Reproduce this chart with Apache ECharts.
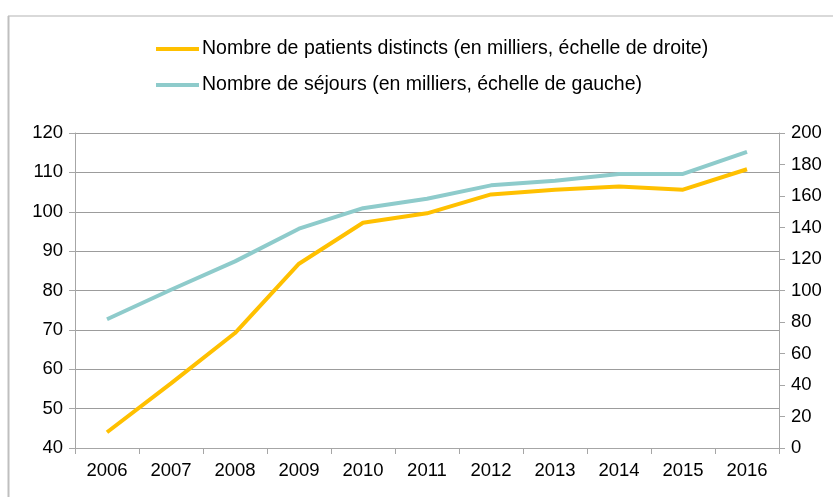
<!DOCTYPE html>
<html>
<head>
<meta charset="utf-8">
<script src="https://cdn.jsdelivr.net/npm/echarts@6/dist/echarts.min.js"></script>
<style>
  html, body { margin: 0; padding: 0; background: #fff; }
  #main { width: 833px; height: 497px; }
</style>
</head>
<body>
<div id="main"></div>
<script>
// années
const years = ['2006', '2007', '2008', '2009', '2010', '2011', '2012', '2013', '2014', '2015', '2016']
// nombre de patients distincts (milliers, échelle de droite)
const patients = [10, 41, 73, 117, 143, 149, 161, 164, 166, 164, 177]
// nombre de séjours (milliers, échelle de gauche)
const sejours = [72.7, 80.2, 87.4, 95.7, 100.9, 103.3, 106.7, 107.9, 109.6, 109.6, 115.2]

const nomPatients = 'Nombre de patients distincts (en milliers, échelle de droite)'
const nomSejours = 'Nombre de séjours (en milliers, échelle de gauche)'

const font = '"Liberation Sans", sans-serif'
const axisGray = '#a6a6a6'
const gridGray = '#9c9c9c'

const myChart = echarts.init(document.getElementById('main'))
myChart.setOption({
  animation: false,
  textStyle: { fontFamily: font },
  graphic: [
    { type: 'line', shape: { x1: 8, y1: 16, x2: 833, y2: 16 }, style: { stroke: '#d9d9d9', lineWidth: 2 } },
    { type: 'line', shape: { x1: 8.5, y1: 16, x2: 8.5, y2: 497 }, style: { stroke: '#bfbfbf', lineWidth: 2 } }
  ],
  legend: {
    orient: 'vertical',
    left: 151,
    top: 34,
    itemGap: 16,
    itemWidth: 43,
    itemHeight: 4,
    icon: 'rect',
    textStyle: { fontSize: 19.5, color: '#000', fontFamily: font, padding: [0, 0, 0, -2] },
    data: [nomPatients, nomSejours]
  },
  grid: { left: 75, right: 54, top: 133, bottom: 49 },
  xAxis: {
    type: 'category',
    data: years,
    boundaryGap: true,
    axisLine: { lineStyle: { color: axisGray } },
    axisTick: { show: true, length: 6, lineStyle: { color: axisGray } },
    axisLabel: { color: '#000', fontSize: 18.5, margin: 13, fontFamily: font }
  },
  yAxis: [
    {
      type: 'value',
      min: 40,
      max: 120,
      interval: 10,
      position: 'left',
      axisLine: { show: true, lineStyle: { color: axisGray } },
      axisTick: { show: true, length: 6, lineStyle: { color: axisGray } },
      axisLabel: { color: '#000', fontSize: 18.5, margin: 12, fontFamily: font },
      splitLine: { lineStyle: { color: gridGray } }
    },
    {
      type: 'value',
      min: 0,
      max: 200,
      interval: 20,
      position: 'right',
      axisLine: { show: true, lineStyle: { color: axisGray } },
      axisTick: { show: true, length: 6, lineStyle: { color: axisGray } },
      axisLabel: { color: '#000', fontSize: 18.5, margin: 12, fontFamily: font },
      splitLine: { show: false }
    }
  ],
  series: [
    {
      name: nomPatients,
      type: 'line',
      yAxisIndex: 1,
      data: patients,
      symbol: 'none',
      color: '#ffc000',
      lineStyle: { width: 4, color: '#ffc000' }
    },
    {
      name: nomSejours,
      type: 'line',
      yAxisIndex: 0,
      data: sejours,
      symbol: 'none',
      color: '#8ecbcb',
      lineStyle: { width: 4, color: '#8ecbcb' }
    }
  ]
})
</script>
</body>
</html>
